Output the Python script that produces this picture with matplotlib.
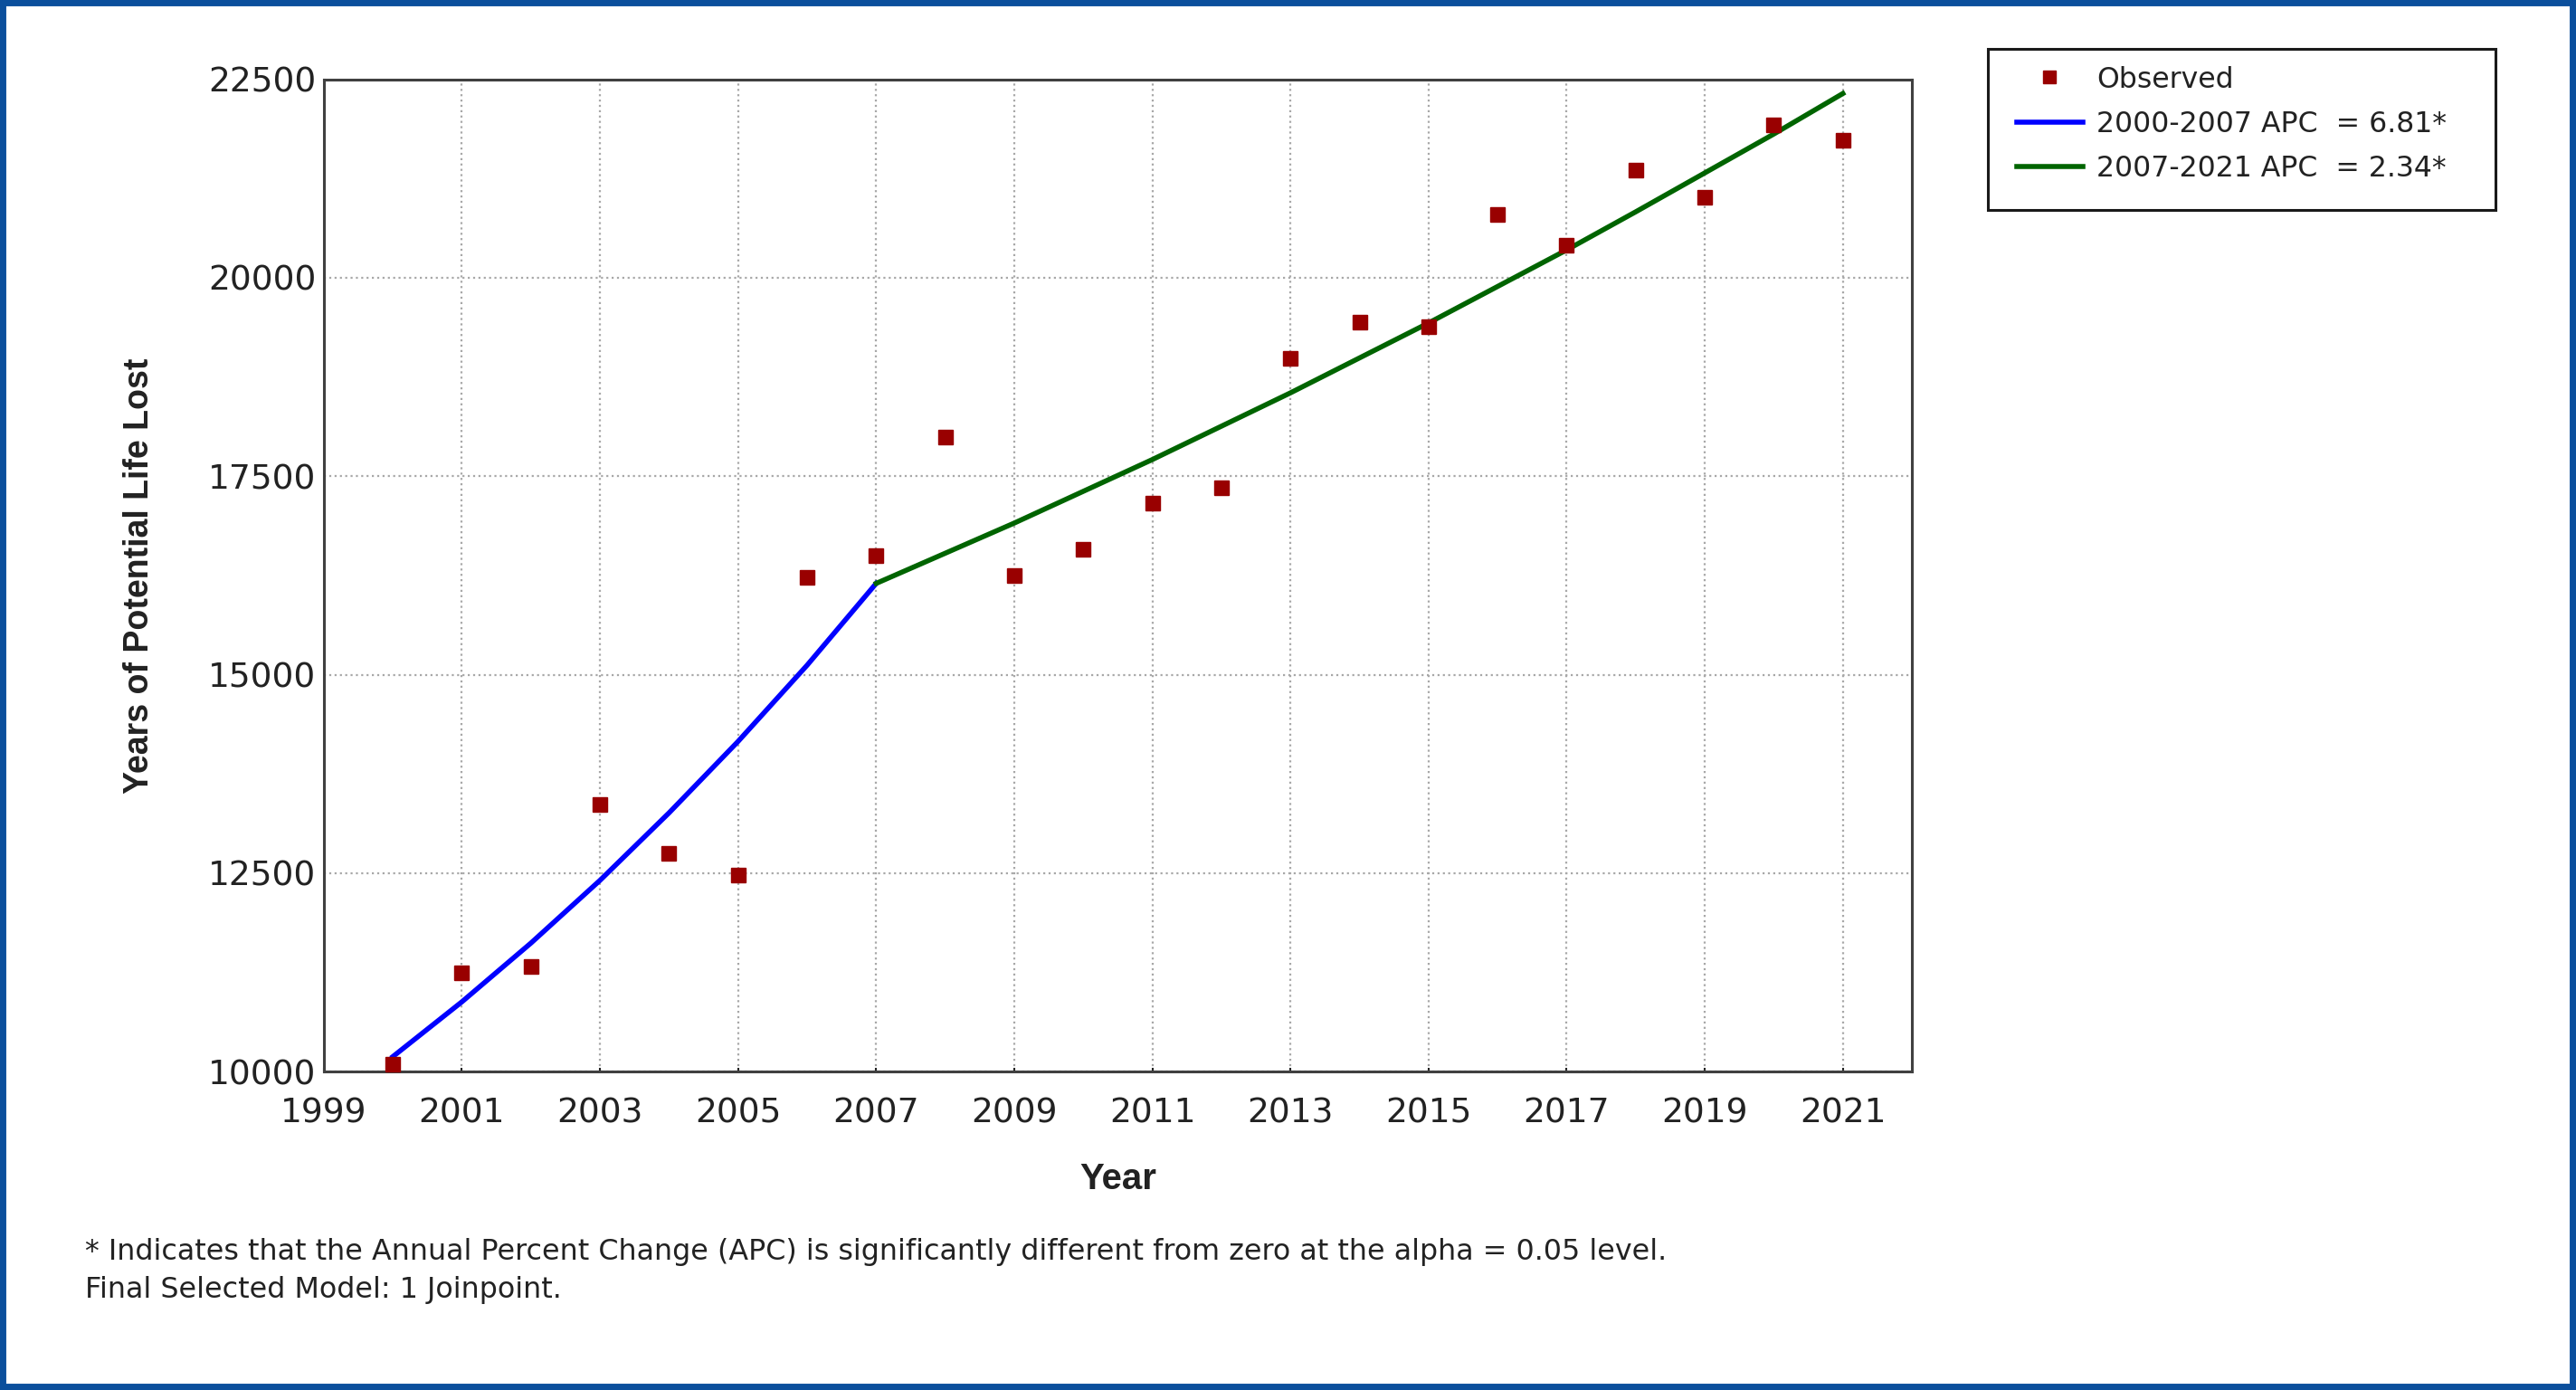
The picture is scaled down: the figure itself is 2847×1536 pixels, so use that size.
import matplotlib
matplotlib.use("Agg")
import matplotlib.pyplot as plt
from matplotlib.patches import Rectangle
from matplotlib.lines import Line2D

# --- dados ---
anos = list(range(2000, 2022))
observado = [10090, 11240, 11330, 13370, 12750, 12480, 16230, 16500, 17990, 16250, 16580,
             17160, 17350, 18980, 19440, 19380, 20800, 20410, 21360, 21010, 21920, 21730]

anos_seg1 = [2000, 2001, 2002, 2003, 2004, 2005, 2006, 2007]
ajuste_seg1 = [10190, 10880, 11620, 12410, 13260, 14160, 15120, 16150]

anos_seg2 = list(range(2007, 2022))
ajuste_seg2 = [16150, 16530, 16910, 17310, 17710, 18130, 18550, 18990, 19430, 19890,
               20350, 20830, 21320, 21810, 22320]

legenda = ["Observed", "2000-2007 APC  = 6.81*", "2007-2021 APC  = 2.34*"]
ticks_x = list(range(1999, 2022, 2))
ticks_y = [10000, 12500, 15000, 17500, 20000, 22500]

# --- cores ---
COR_PONTO = '#990000'
COR_AZUL = '#0000FF'
COR_VERDE = '#006400'
COR_BORDA = '#0B4F9C'
COR_EIXO = '#404040'
COR_GRADE = '#A8A8A8'
COR_TEXTO = '#222222'

plt.rcParams['font.family'] = ['DejaVu Sans']

fig = plt.figure(figsize=(28.47, 15.36), dpi=100, facecolor='white')
ax = fig.add_axes([0.1257, 0.229, 0.6165, 0.714])

ax.plot(anos_seg1, ajuste_seg1, color=COR_AZUL, linewidth=4, zorder=3)
ax.plot(anos_seg2, ajuste_seg2, color=COR_VERDE, linewidth=4, zorder=3)
ax.plot(anos, observado, linestyle='none', marker='s', markersize=11,
        color=COR_PONTO, zorder=4, clip_on=False)

ax.set_xlim(1999, 2022)
ax.set_ylim(10000, 22500)
ax.set_xticks(ticks_x)
ax.set_yticks(ticks_y)
ax.tick_params(axis='both', labelsize=27, colors=COR_TEXTO, length=3,
               width=1.5, direction='in')
ax.tick_params(axis='x', pad=20)
ax.tick_params(axis='y', length=0, pad=6)

ax.grid(True, linestyle=':', color=COR_GRADE, linewidth=1.6)
ax.set_axisbelow(True)
for lado in ['top', 'right', 'left', 'bottom']:
    ax.spines[lado].set_color(COR_EIXO)
    ax.spines[lado].set_linewidth(2.2)

ax.set_xlabel('Year', fontsize=29, fontweight='bold', color=COR_TEXTO, labelpad=26,
              family='Liberation Sans')
ax.set_ylabel('Years of Potential Life Lost', fontsize=27, fontweight='bold',
              color=COR_TEXTO, labelpad=42, family='Liberation Sans')

# legenda com caixa própria
fig.patches.append(Rectangle((0.7717, 0.849), 0.197, 0.116, transform=fig.transFigure,
                             fill=False, edgecolor='#1a1a1a', linewidth=2.2))
handles = [
    Line2D([], [], linestyle='none', marker='s', markersize=10, color=COR_PONTO),
    Line2D([], [], color=COR_AZUL, linewidth=4),
    Line2D([], [], color=COR_VERDE, linewidth=4),
]
fig.legend(handles, legenda, loc='upper left', bbox_to_anchor=(0.7785, 0.961),
           frameon=False, fontsize=22.7, handlelength=2.3, handletextpad=0.5,
           labelspacing=0.58, borderaxespad=0, labelcolor=COR_TEXTO)

# notas de rodapé
fig.text(0.033, 0.099, '* Indicates that the Annual Percent Change (APC) is significantly '
         'different from zero at the alpha = 0.05 level.', fontsize=22.9,
         color=COR_TEXTO, va='center')
fig.text(0.033, 0.072, 'Final Selected Model: 1 Joinpoint.', fontsize=22.9,
         color=COR_TEXTO, va='center')

# moldura azul
fig.patches.append(Rectangle((0, 0), 1, 1, transform=fig.transFigure, fill=False,
                             edgecolor=COR_BORDA, linewidth=10))

fig.savefig('out.png', dpi=100, facecolor='white')
